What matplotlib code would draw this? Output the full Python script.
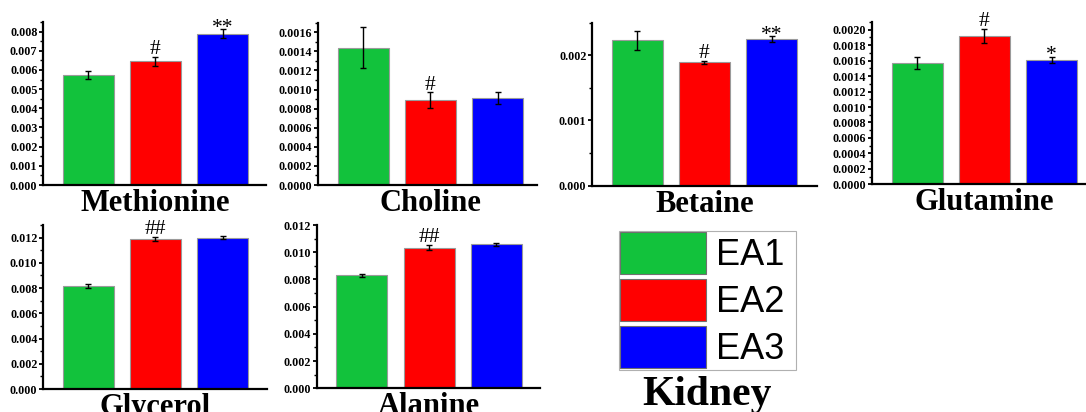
import matplotlib.pyplot as plt
from matplotlib.patches import Patch
from matplotlib.ticker import MultipleLocator, AutoMinorLocator, FormatStrFormatter

groups = ['EA1', 'EA2', 'EA3']
colors = ['#12c23c', '#ff0000', '#0000ff']
x = [1, 2, 3]

methionine_mean = [0.00576, 0.00645, 0.00789]
methionine_err = [0.00021, 0.00023, 0.00023]
methionine_sig = ['', '#', '**']

choline_mean = [0.00144, 0.00089, 0.00091]
choline_err = [0.00021, 0.00008, 0.00006]
choline_sig = ['', '#', '']

betaine_mean = [0.00223, 0.00189, 0.00225]
betaine_err = [0.00015, 0.00003, 0.00004]
betaine_sig = ['', '#', '**']

glutamine_mean = [0.00157, 0.00192, 0.00161]
glutamine_err = [0.00008, 0.00009, 0.00004]
glutamine_sig = ['', '#', '*']

glycerol_mean = [0.00817, 0.0119, 0.0120]
glycerol_err = [0.00013, 0.00014, 0.00013]
glycerol_sig = ['', '##', '']

alanine_mean = [0.00831, 0.01034, 0.01059]
alanine_err = [0.0001, 0.0002, 0.0001]
alanine_sig = ['', '##', '']

W, H = 1086, 412
fig = plt.figure(figsize=(W / 100, H / 100), dpi=100)

serif = 'Liberation Serif'

# name, means, errors, marks, ymax, major step, label format, axes box in px (x0, top, x1, bottom)
panels = [
    ('Methionine', methionine_mean, methionine_err, methionine_sig, 0.0085, 0.001, '%.3f', (43, 22, 266, 185)),
    ('Choline', choline_mean, choline_err, choline_sig, 0.0017, 0.0002, '%.4f', (318, 22.7, 537, 185)),
    ('Betaine', betaine_mean, betaine_err, betaine_sig, 0.0025, 0.001, '%.3f', (592, 22.7, 817, 185.7)),
    ('Glutamine', glutamine_mean, glutamine_err, glutamine_sig, 0.0021, 0.0002, '%.4f', (872, 22, 1085, 184.3)),
    ('Glycerol', glycerol_mean, glycerol_err, glycerol_sig, 0.013, 0.002, '%.3f', (43, 225, 267, 389)),
    ('Alanine', alanine_mean, alanine_err, alanine_sig, 0.012, 0.002, '%.3f', (316.7, 225, 540, 388.3)),
]

for name, mean, err, sig, ymax, step, fmt, (x0, top, x1, bot) in panels:
    ax = fig.add_axes([x0 / W, 1 - bot / H, (x1 - x0) / W, (bot - top) / H])
    ax.bar(x, mean, width=0.76, color=colors, edgecolor='#9a9a9a', linewidth=0.8, zorder=2)
    ax.errorbar(x, mean, yerr=err, fmt='none', ecolor='black', elinewidth=1.0,
                capsize=2.5, capthick=1.0, zorder=3)
    for xi, m, e, s in zip(x, mean, err, sig):
        if s:
            # asterisks sit high in the em box, so pull them down onto the cap
            dy = -2.5 if s.startswith('*') else 2
            ax.annotate(s, xy=(xi, m + e), xytext=(0, dy), textcoords='offset points',
                        ha='center', va='baseline', fontsize=15.5, family=serif)

    ax.set_xlim(0.33, 0.33 + (x1 - x0) / 67.3)
    ax.set_ylim(0, ymax)
    ax.yaxis.set_major_locator(MultipleLocator(step))
    ax.yaxis.set_minor_locator(AutoMinorLocator(2))
    ax.yaxis.set_major_formatter(FormatStrFormatter(fmt))
    ax.set_xticks([])
    for side in ('top', 'right'):
        ax.spines[side].set_visible(False)
    for side in ('left', 'bottom'):
        ax.spines[side].set_linewidth(1.6)
    ax.tick_params(axis='y', which='major', length=3, width=1.3, pad=1)
    ax.tick_params(axis='y', which='minor', length=2, width=1.0)
    for lab in ax.get_yticklabels():
        lab.set_fontfamily(serif)
        lab.set_fontweight('bold')
        lab.set_fontsize(8.7)

    ax.annotate(name, xy=(2, 0), xycoords=('data', 'axes fraction'),
                xytext=(0, -3), textcoords='offset points', ha='center', va='top',
                fontsize=22, fontweight='bold', family=serif, annotation_clip=False)

handles = [Patch(facecolor=c, edgecolor='#707070', linewidth=0.8) for c in colors]
fs = 26
em = fs * 100 / 72
leg = fig.legend(handles, [g + ' ' for g in groups], loc='upper left',
                 bbox_to_anchor=(619 / W, 1 - 231 / H),
                 prop={'family': 'Liberation Sans', 'size': fs},
                 handlelength=86 / em, handleheight=1.41, labelspacing=0.14,
                 handletextpad=10 / em, borderpad=0.04, borderaxespad=0,
                 fancybox=False, framealpha=1)
leg.get_frame().set_edgecolor('#b0b0b0')
leg.get_frame().set_linewidth(0.8)

fig.text(707 / W, 1 - 405 / H, 'Kidney', ha='center', va='baseline',
         fontsize=30, fontweight='bold', family=serif)

fig.savefig('out.png', dpi=100)
